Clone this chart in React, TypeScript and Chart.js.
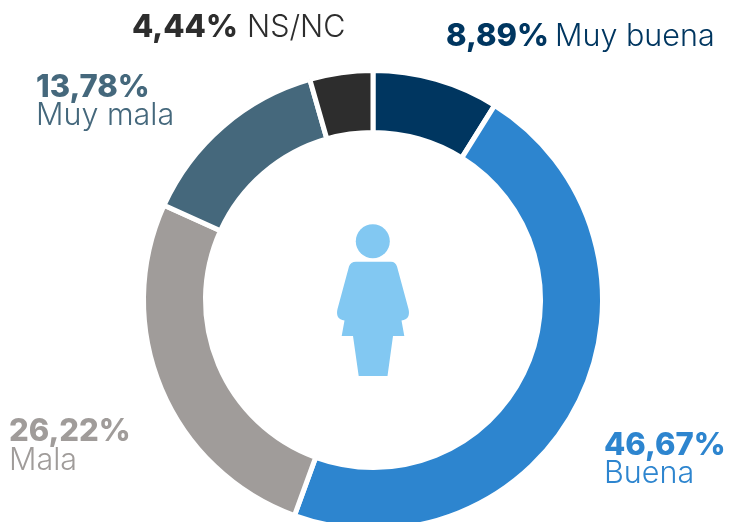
import React, { useEffect, useRef } from "react";
import { Chart, registerables } from "chart.js";

Chart.register(...registerables);

const categories = ["Muy buena", "Buena", "Mala", "Muy mala", "NS/NC"];
const values = [8.89, 46.67, 26.22, 13.78, 4.44];
const valueLabels = ["8,89%", "46,67%", "26,22%", "13,78%", "4,44%"];
const colors = ["#003660", "#2d85cf", "#a09c9a", "#45687c", "#2d2d2d"];

const FONT = "Inter, sans-serif";
const BOLD_SIZE = 31;
const NAME_SIZE = 30.5;

// [x, baseline] of the value label, and [x, baseline] of the category label
const labelPlaces = [
  [446, 46, 555, 46],
  [604, 455, 604, 483],
  [9, 441, 9, 470],
  [36, 97, 36, 125],
  [132, 37, 247, 37],
];

const iconPlugin = {
  id: "icon",
  afterDraw(chart: any) {
    const ctx = chart.ctx;
    ctx.save();
    ctx.fillStyle = "#82c8f2";
    ctx.beginPath();
    ctx.arc(372.8, 241.3, 17, 0, Math.PI * 2);
    ctx.fill();
    const p = new Path2D(
      "M356 261.7 L391 261.7 Q395.5 261.7 397 266.5 L408.5 309 Q411 319 401.5 320.5 L404.3 336 L393 336 L387.5 376 L358.7 376 L353 336 L341.7 336 L344.5 320.5 Q335 319 337.5 309 L349 266.5 Q350.5 261.7 356 261.7 Z"
    );
    ctx.fill(p);
    ctx.restore();
  },
};

const labelPlugin = {
  id: "labels",
  afterDraw(chart: any) {
    const ctx = chart.ctx;
    ctx.save();
    ctx.textBaseline = "alphabetic";
    ctx.textAlign = "left";
    categories.forEach((name, i) => {
      const [vx, vy, nx, ny] = labelPlaces[i];
      ctx.fillStyle = colors[i];
      ctx.font = `800 ${BOLD_SIZE}px ${FONT}`;
      ctx.fillText(valueLabels[i], vx, vy);
      ctx.font = `300 ${NAME_SIZE}px ${FONT}`;
      ctx.fillText(name, nx, ny);
    });
    ctx.restore();
  },
};

export default function App() {
  const ref = useRef<HTMLCanvasElement>(null);
  useEffect(() => {
    document.body.style.margin = "0";
    const chart = new Chart(ref.current!, {
      type: "doughnut",
      data: {
        labels: categories,
        datasets: [
          {
            data: values,
            backgroundColor: colors,
            borderColor: "#ffffff",
            borderWidth: 5,
          },
        ],
      },
      options: {
        animation: false,
        responsive: false,
        cutout: "73%",
        layout: { padding: { left: 141, right: 126, top: 68, bottom: 68 } },
        plugins: { legend: { display: false }, tooltip: { enabled: false } },
      },
      plugins: [iconPlugin, labelPlugin],
    });
    return () => chart.destroy();
  }, []);
  return (
    <div style={{ position: "absolute", left: 0, top: 0, width: 731, height: 522, overflow: "hidden", background: "#fff" }}>
      <canvas ref={ref} width={731} height={600} style={{ display: "block" }} />
    </div>
  );
}
